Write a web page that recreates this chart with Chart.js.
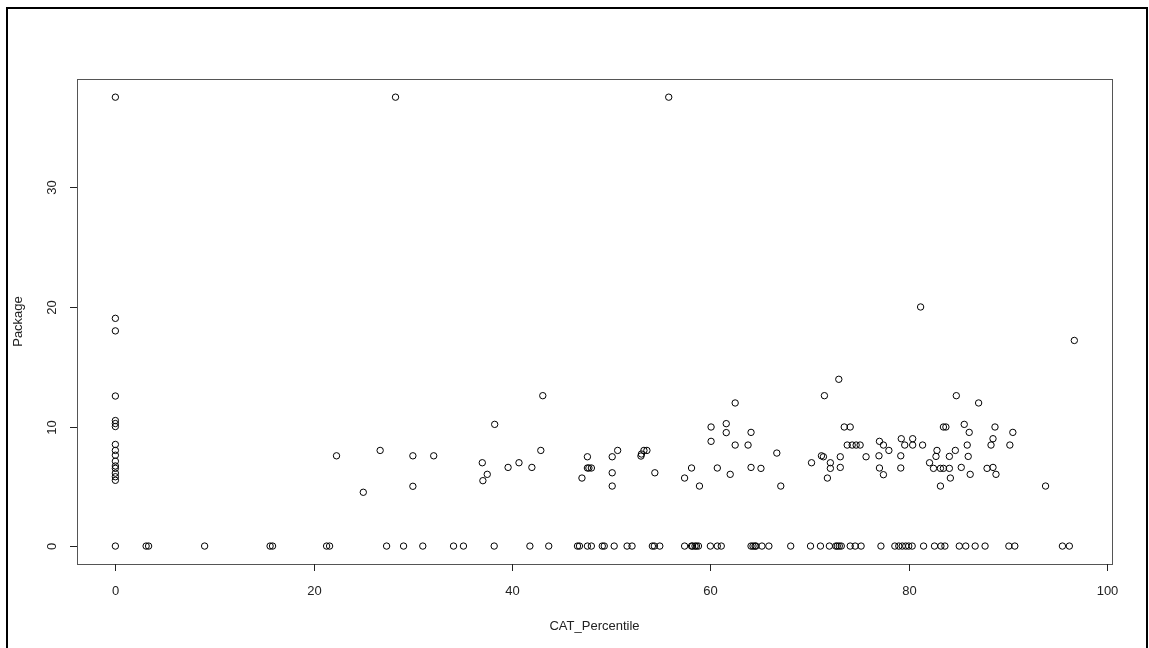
<!DOCTYPE html>
<html>
<head>
<meta charset="utf-8">
<script src="https://cdn.jsdelivr.net/npm/chart.js@4"></script>
<style>
  html, body { margin: 0; padding: 0; background: #fff; }
  #wrap { position: relative; width: 1149px; height: 648px; }
</style>
</head>
<body>
<div id="wrap"><canvas id="myChart" width="1149" height="648"></canvas></div>
<script>
// axis ticks
const xTicks = [0, 20, 40, 60, 80, 100];
const yTicks = [0, 10, 20, 30];

// points with Package > 0 (CAT_Percentile, Package)
const pctNonZero = [
    0, 0, 0, 0, 0, 0, 0, 0, 0, 0, 0, 0, 0, 0, 0, 0,
    28.25, 55.8, 22.3, 25.0, 26.7, 30.0, 30.0, 32.1, 37.0, 37.06, 37.5, 38.25,
    39.6, 40.7, 42.0, 42.9, 43.1, 47.05, 47.6, 47.6, 47.75, 48.0, 50.1, 50.1, 50.1,
    50.65, 53.0, 53.05, 53.3, 53.6, 54.4, 57.4, 58.1, 58.9, 60.07, 60.07, 60.7,
    61.6, 61.6, 62.0, 62.5, 62.5, 63.8, 64.1, 64.1, 65.1, 66.7, 67.1, 70.2,
    71.2, 71.4, 71.5, 71.8, 72.1, 72.1, 72.95, 73.1, 73.1, 73.5, 74.1,
    73.8, 74.3, 74.7, 75.1, 75.7, 77.0, 77.05, 77.05, 77.45, 77.45, 78.0,
    81.2, 96.7, 84.8, 87.05, 83.5, 83.75, 85.6, 86.1, 88.7, 90.5,
    79.25, 79.6, 80.4, 80.4, 81.4, 79.2, 79.2, 82.85, 82.75, 82.1,
    82.5, 83.2, 83.5, 84.1, 84.1, 84.7, 84.2, 83.2, 85.3, 85.9, 86.0, 86.2,
    87.9, 88.5, 88.8, 88.3, 88.5, 90.2, 93.8
];
const pkgNonZero = [
    37.55, 19.05, 18.0, 12.55, 10.5, 10.25, 10.0, 8.5, 8.0, 7.6, 7.1, 6.7, 6.5, 6.1, 5.8, 5.5,
    37.55, 37.55, 7.55, 4.5, 8.0, 7.55, 5.0, 7.55, 6.97, 5.47, 6.0, 10.18,
    6.58, 6.97, 6.58, 8.0, 12.58, 5.69, 7.47, 6.53, 6.53, 6.53, 7.47, 6.13, 5.02,
    8.0, 7.53, 7.7, 8.0, 8.0, 6.13, 5.69, 6.53, 5.02, 9.96, 8.76, 6.53,
    10.24, 9.49, 6.0, 8.45, 11.97, 8.45, 9.51, 6.58, 6.5, 7.78, 5.02, 6.97,
    7.55, 7.47, 12.58, 5.69, 6.97, 6.5, 13.95, 7.47, 6.58, 9.96, 9.96,
    8.45, 8.45, 8.45, 8.45, 7.47, 7.55, 8.76, 6.53, 8.45, 5.97, 8.0,
    20.0, 17.2, 12.58, 11.97, 9.96, 9.96, 10.18, 9.51, 9.96, 9.51,
    8.98, 8.45, 8.98, 8.45, 8.45, 7.55, 6.53, 8.0, 7.5, 6.97,
    6.5, 6.5, 6.5, 6.5, 7.5, 8.0, 5.69, 5.02, 6.58, 8.45, 7.5, 6.0,
    6.5, 6.58, 6.0, 8.45, 8.98, 8.45, 5.02
];

// percentiles of points with Package == 0
const pctZero = [
    0, 3.1, 3.35, 9.0, 15.6, 15.85, 21.3, 21.6, 27.35, 29.06, 31.0, 34.1, 35.1,
    38.2, 41.8, 43.7, 46.6, 46.8, 47.6, 48.0, 49.1, 49.3, 50.3, 51.6, 52.1,
    54.15, 54.35, 54.9, 57.4, 58.1, 58.2, 58.45, 58.6, 58.8, 60.0, 60.7, 61.1,
    64.1, 64.3, 64.5, 64.6, 65.2, 65.9, 68.1, 70.1, 71.1, 72.0, 72.65, 72.8,
    73.0, 73.2, 74.1, 74.6, 75.2, 77.2, 78.6, 79.0, 79.35, 79.7, 80.0, 80.35,
    81.5, 82.6, 83.25, 83.65, 85.1, 85.75, 86.7, 87.7, 90.1, 90.7, 95.5, 96.2
];

const points = [];
pctNonZero.forEach(function (x, i) { points.push({ x: x, y: pkgNonZero[i] }); });
pctZero.forEach(function (x) { points.push({ x: x, y: 0 }); });

const FONT = '"Liberation Sans", Arial, sans-serif';

// R base-graphics look: box, outside ticks, rotated y labels, outer frame
const rAxes = {
    id: 'rAxes',
    afterDraw: function (chart) {
        const c = chart.ctx;
        const a = chart.chartArea;
        const xs = chart.scales.x, ys = chart.scales.y;
        c.save();
        c.strokeStyle = '#555';
        c.lineWidth = 1;
        c.strokeRect(a.left + 0.5, a.top + 0.5, a.right - a.left, a.bottom - a.top);

        c.strokeStyle = '#222';
        c.fillStyle = '#222';
        c.font = '13px ' + FONT;
        c.textAlign = 'center';
        c.textBaseline = 'middle';
        xTicks.forEach(function (v) {
            const px = Math.round(xs.getPixelForValue(v)) + 0.5;
            c.beginPath();
            c.moveTo(px, a.bottom);
            c.lineTo(px, a.bottom + 7);
            c.stroke();
            c.fillText(String(v), px, a.bottom + 27);
        });
        yTicks.forEach(function (v) {
            const py = Math.round(ys.getPixelForValue(v)) + 0.5;
            c.beginPath();
            c.moveTo(a.left, py);
            c.lineTo(a.left - 7, py);
            c.stroke();
            c.save();
            c.translate(a.left - 25, py);
            c.rotate(-Math.PI / 2);
            c.fillText(String(v), 0, 0);
            c.restore();
        });
        c.fillText('CAT_Percentile', (a.left + a.right) / 2, a.bottom + 62);
        c.save();
        c.translate(18, (a.top + a.bottom) / 2);
        c.rotate(-Math.PI / 2);
        c.fillText('Package', 0, 0);
        c.restore();

        c.strokeStyle = '#000';
        c.lineWidth = 2;
        c.strokeRect(7, 8, 1140, 700);
        c.restore();
    }
};

var ctx = document.getElementById('myChart').getContext('2d');
var myChart = new Chart(ctx, {
    type: 'scatter',
    data: {
        datasets: [{
            label: 'Package',
            data: points,
            pointStyle: 'circle',
            pointRadius: 3.2,
            pointBorderWidth: 1,
            borderColor: '#000',
            backgroundColor: 'rgba(0,0,0,0)'
        }]
    },
    options: {
        responsive: false,
        animation: false,
        layout: { padding: { left: 77, top: 79, right: 37, bottom: 84 } },
        plugins: { legend: { display: false }, tooltip: { enabled: false } },
        scales: {
            x: { type: 'linear', display: false, min: -3.87, max: 100.5 },
            y: { type: 'linear', display: false, min: -1.5, max: 39.07 }
        }
    },
    plugins: [rAxes]
});
</script>
</body>
</html>
